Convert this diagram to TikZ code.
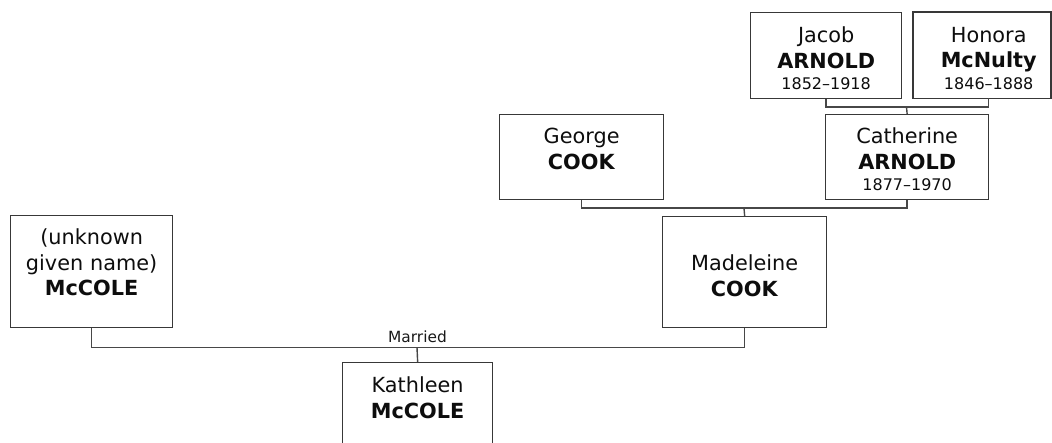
\documentclass[tikz,border=0pt]{standalone}
\usepackage{fontspec}
\setmainfont{DejaVu Sans}
\newcommand{\datefont}{\fontsize{16}{19}\selectfont}
\begin{document}
\begin{tikzpicture}[x=1pt,y=-1pt,
  personbase/.style={rectangle, inner sep=0pt, anchor=north west, align=center,
    font=\fontsize{20.8}{25.5}\selectfont, text=black!95},
  person/.style={personbase, draw=black!78, line width=1.3pt},
  boxline/.style={draw=black!78, line width=1.3pt},
  conn/.style={draw=black!72, line width=1.4pt},
  lbl/.style={font=\fontsize{15.4}{18}\selectfont, text=black!90, inner sep=0pt, anchor=base}
]
\useasboundingbox (0,0) rectangle (1052,443);
\clip (0,0) rectangle (1052,443);

% boxes
\node[person, text width=151pt, text height=30pt, text depth=56pt] (jacob) at (750,12)
  {Jacob\\\textbf{ARNOLD}\\[-4pt]{\datefont 1852--1918}};
\node[personbase, text width=151pt, text height=30pt, text depth=56pt] (honora) at (913,12)
  {Honora\\\textbf{McNulty}\\[-4pt]{\datefont 1846--1888}};
\draw[boxline] (honora.north west) rectangle ([xshift=138pt]honora.south west);
\node[person, text width=163pt, text height=29pt, text depth=56pt] (catherine) at (825,114)
  {Catherine\\\textbf{ARNOLD}\\[-4pt]{\datefont 1877--1970}};
\node[person, text width=164pt, text height=29pt, text depth=56pt] (george) at (499,114)
  {George\\\textbf{COOK}};
\node[person, text width=164pt, text height=54pt, text depth=57pt] (madeleine) at (662,216)
  {Madeleine\\\textbf{COOK}};
\node[person, text width=162pt, text height=29pt, text depth=83pt] (unknown) at (10,215)
  {(unknown\\given name)\\\textbf{McCOLE}};
\node[person, text width=150pt, text height=30pt, text depth=100pt] (kathleen) at (342,362)
  {Kathleen\\\textbf{McCOLE}};

% junction points
\coordinate (jh) at (906.5,107);
\coordinate (gc) at (744,208);
\coordinate (mk) at (417,347.5);

% connectors
\draw[conn] (jacob.south) |- (jh) -| (honora.south);
\draw[conn] (jh) -- (catherine.north);
\draw[conn] (george.south) |- (gc) -| (catherine.south);
\draw[conn] (gc) -- (madeleine.north);
\draw[conn] (unknown.south) |- (mk) -| (madeleine.south);
\draw[conn] (mk) -- (kathleen.north);
\node[lbl] (married) at (417.5,343) {Married};
\end{tikzpicture}
\end{document}
